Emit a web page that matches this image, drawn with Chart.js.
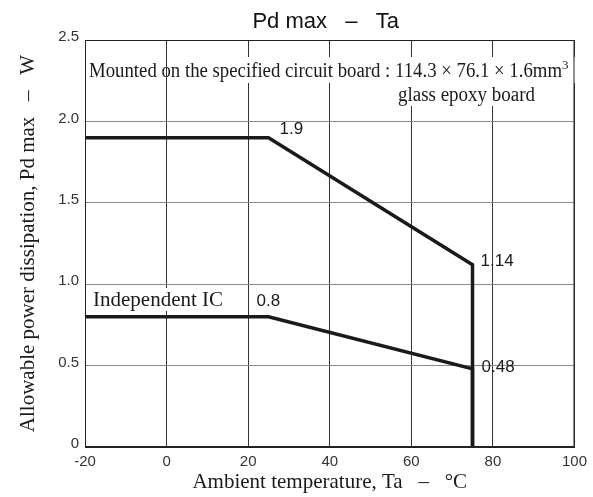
<!DOCTYPE html>
<html>
<head>
<meta charset="utf-8">
<title>Pd max - Ta</title>
<script src="https://cdn.jsdelivr.net/npm/chart.js@4.4.1/dist/chart.umd.min.js"></script>
<style>
  body { margin: 0; background: #ffffff; }
  #wrap { width: 593px; height: 497px; }
</style>
</head>
<body>
<div id="wrap"><canvas id="pdChart" width="593" height="497"></canvas></div>
<script>
// index.html
// Chart data
const boardTemps = [-20, 25, 75, 75];
const boardPower = [1.9, 1.9, 1.12, 0];
const icTemps = [-20, 25, 75, 75];
const icPower = [0.8, 0.8, 0.48, 0];

const xTickLabels = ["-20", "0", "20", "40", "60", "80", "100"];
const yTickLabels = ["0", "0.5", "1.0", "1.5", "2.0", "2.5"];

const titleText = "Pd max   \u2013   Ta";
const xTitle = "Ambient temperature, Ta   \u2013   \u00B0C";
const yTitle = "Allowable power dissipation, Pd max   \u2013   W";
const boardNote = "Mounted on the specified circuit board : 114.3 \u00D7 76.1 \u00D7 1.6mm";
const boardNote2 = "glass epoxy board";
const icNote = "Independent IC";

const SERIF = "'Liberation Serif', 'Times New Roman', serif";
const SANS = "'Liberation Sans', Arial, sans-serif";

// Functions
/**
 * Zips two arrays into a list of {x, y} points.
 * @param {array, array}
 * @return {array}
 */
function toPoints(xs, ys){
  return xs.map((x, i) => ({x: x, y: ys[i]}));
}

/**
 * Plugin that paints the white boxes behind the notes (covers the grid).
 */
const noteBoxes = {
  id: "noteBoxes",
  beforeDatasetsDraw(chart){
    const ctx = chart.ctx;
    ctx.save();
    ctx.fillStyle = "#ffffff";
    ctx.fillRect(172, 57, 403, 26);
    ctx.fillRect(395, 83, 142, 23);
    ctx.fillRect(90, 288, 138, 23);
    ctx.restore();
  }
};

/**
 * Plugin that draws the title, frame and all text labels.
 */
const textLabels = {
  id: "textLabels",
  afterDatasetsDraw(chart){
    const ctx = chart.ctx;
    const area = chart.chartArea;
    const xs = chart.scales.x;
    const ys = chart.scales.y;
    ctx.save();

    // frame
    ctx.strokeStyle = "#222222";
    ctx.lineWidth = 1;
    ctx.strokeRect(area.left + 0.5, area.top + 0.5, area.right - area.left - 1, area.bottom - area.top - 1);

    // title
    ctx.fillStyle = "#111111";
    ctx.font = "22px " + SANS;
    ctx.textAlign = "center";
    ctx.textBaseline = "alphabetic";
    ctx.fillText(titleText, (area.left + area.right) / 2 - 4, 28);

    // board note
    ctx.textAlign = "left";
    ctx.fillStyle = "#1a1a1a";
    ctx.font = "20px " + SERIF;
    ctx.fillText(boardNote, 89, 77, 473);
    ctx.font = "13px " + SERIF;
    ctx.fillText("3", 562, 69);
    ctx.font = "20px " + SERIF;
    ctx.fillText(boardNote2, 398, 101, 137);
    ctx.font = "21px " + SERIF;
    ctx.fillText(icNote, 93, 306, 132);

    // value labels next to the curve corners
    ctx.font = "17px " + SANS;
    ctx.textBaseline = "middle";
    const kneeHi = {x: xs.getPixelForValue(boardTemps[1]), y: ys.getPixelForValue(boardPower[1])};
    const endHi = {x: xs.getPixelForValue(boardTemps[2]), y: ys.getPixelForValue(boardPower[2])};
    const kneeLo = {x: xs.getPixelForValue(icTemps[1]), y: ys.getPixelForValue(icPower[1])};
    const endLo = {x: xs.getPixelForValue(icTemps[2]), y: ys.getPixelForValue(icPower[2])};
    ctx.fillText("1.9", kneeHi.x + 11, kneeHi.y - 8);
    ctx.fillText("1.14", endHi.x + 8, endHi.y - 3);
    ctx.fillText("0.8", kneeLo.x - 12, kneeLo.y - 15);
    ctx.fillText("0.48", endLo.x + 9, endLo.y - 2);

    ctx.restore();
  }
};

/**
 * Builds the Pd max - Ta chart.
 * @param {String}
 */
function initializePdChart(canvasId){
  console.log("Initializing: " + canvasId);
  let ctx = document.getElementById(canvasId);
  let lineStyle = {
    borderColor: "#1a1a1a",
    borderWidth: 3.5,
    pointRadius: 0,
    fill: false,
    tension: 0,
    borderJoinStyle: "miter"
  };

  new Chart(ctx, {
    type: "line",
    data: {
      datasets: [
        Object.assign({label: "Board", data: toPoints(boardTemps, boardPower)}, lineStyle),
        Object.assign({label: "Independent IC", data: toPoints(icTemps, icPower)}, lineStyle)
      ]
    },
    options: {
      responsive: false,
      animation: false,
      layout: {
        padding: {top: 40, right: 17, left: 0, bottom: 0}
      },
      plugins: {
        legend: {display: false},
        title: {display: false},
        tooltip: {enabled: false}
      },
      scales: {
        x: {
          type: "linear",
          min: -20,
          max: 100,
          afterFit: (scale) => { scale.height = 50; },
          afterBuildTicks: (scale) => {
            scale.ticks = xTickLabels.map((t) => ({value: Number(t)}));
          },
          ticks: {
            stepSize: 20,
            padding: 6,
            color: "#333333",
            font: {family: SANS, size: 15},
            maxRotation: 0,
            callback: (value, index) => xTickLabels[index]
          },
          grid: {color: "#333333", lineWidth: 1, drawTicks: false},
          border: {color: "#222222", width: 1},
          title: {
            display: true,
            text: xTitle,
            color: "#1a1a1a",
            font: {family: SERIF, size: 21},
            padding: {top: 0, bottom: 2}
          }
        },
        y: {
          min: 0,
          max: 2.5,
          afterFit: (scale) => { scale.width = 85; },
          afterBuildTicks: (scale) => {
            scale.ticks = yTickLabels.map((t) => ({value: Number(t)}));
          },
          ticks: {
            stepSize: 0.5,
            padding: 6,
            labelOffset: -3,
            color: "#333333",
            font: {family: SANS, size: 15},
            callback: (value, index) => yTickLabels[index]
          },
          grid: {color: "#8a8a8a", lineWidth: 1, drawTicks: false},
          border: {color: "#222222", width: 1},
          title: {
            display: true,
            text: yTitle,
            color: "#1a1a1a",
            font: {family: SERIF, size: 21},
            padding: {top: 16, bottom: 0}
          }
        }
      }
    },
    plugins: [noteBoxes, textLabels]
  });
}

document.addEventListener("DOMContentLoaded", function() {
  initializePdChart("pdChart");
});
</script>
</body>
</html>
